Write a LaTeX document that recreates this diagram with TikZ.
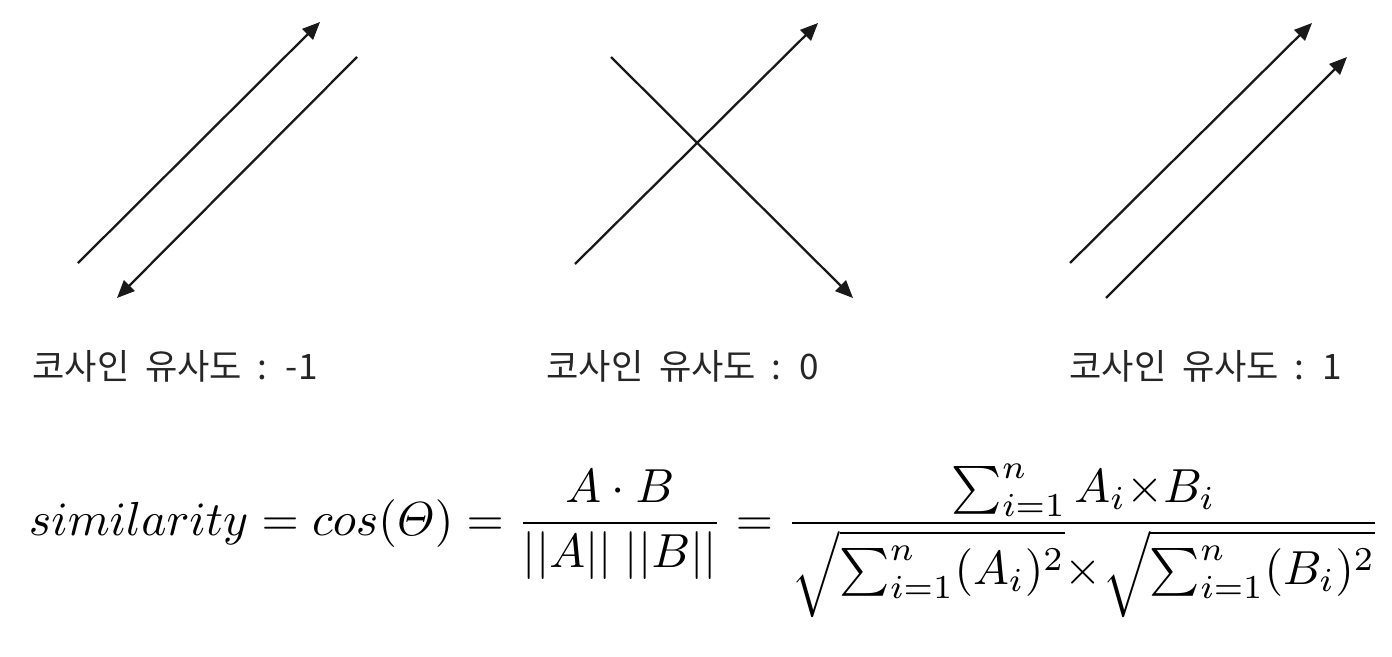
\documentclass[tikz,border=0pt]{standalone}
\usepackage{amsmath}
\usepackage{amssymb}
\usepackage{fontspec}
\newfontfamily\kofont[WordSpace=2.0]{Noto Sans CJK KR}
\usepackage{tikz}
\usetikzlibrary{arrows.meta}

% strut that deepens a radical's content, pulled close to the surd
\newcommand{\rootstrut}{\mkern-3mu\rule[-5pt]{0pt}{1pt}}

\begin{document}
\begin{tikzpicture}[x=0.02cm, y=-0.02cm, line join=round,
    vec/.style={line width=1.3pt, draw=black!90, -{Triangle[length=10pt, width=8.5pt]}},
    caption/.style={anchor=west, inner sep=0pt, text=black!85, font=\kofont\fontsize{20}{24}\selectfont}]

    % Frame in pixel units of the original picture (y grows downward)
    \useasboundingbox (0,0) rectangle (1392,656);

    % Left: vectors pointing in opposite directions
    \coordinate (A1) at (78,263);
    \coordinate (A2) at (320,22);
    \coordinate (B1) at (357,57);
    \coordinate (B2) at (117,298);
    \draw[vec] (A1) -- (A2);
    \draw[vec] (B1) -- (B2);

    % Middle: perpendicular vectors
    \coordinate (C1) at (575,264);
    \coordinate (C2) at (818,23);
    \coordinate (D1) at (611,57);
    \coordinate (D2) at (853,298);
    \draw[vec] (C1) -- (C2);
    \draw[vec] (D1) -- (D2);

    % Right: vectors pointing the same way
    \coordinate (E1) at (1070,263);
    \coordinate (E2) at (1312,23);
    \coordinate (F1) at (1106,298);
    \coordinate (F2) at (1347,57);
    \draw[vec] (E1) -- (E2);
    \draw[vec] (F1) -- (F2);

    % Captions
    \node[caption] (capneg)  at (32,366)   {코사인 유사도 : -1};
    \node[caption] (capzero) at (546,366)  {코사인 유사도 : 0};
    \node[caption] (cappos)  at (1069,366) {코사인 유사도 : 1};

    % Cosine similarity formula
    \node[anchor=base west, inner sep=0pt, scale=2.72] (formula) at (28,535)
        {$\displaystyle similarity = cos(\varTheta) = \frac{A \cdot B}{||A||\;||B||}
          = \frac{\sum_{i=1}^{n} A_i {\times} B_i}{\sqrt{\rootstrut\sum_{i=1}^{n}(A_i)^2}{\times}\sqrt{\rootstrut\sum_{i=1}^{n}(B_i)^2}}$};

\end{tikzpicture}
\end{document}
